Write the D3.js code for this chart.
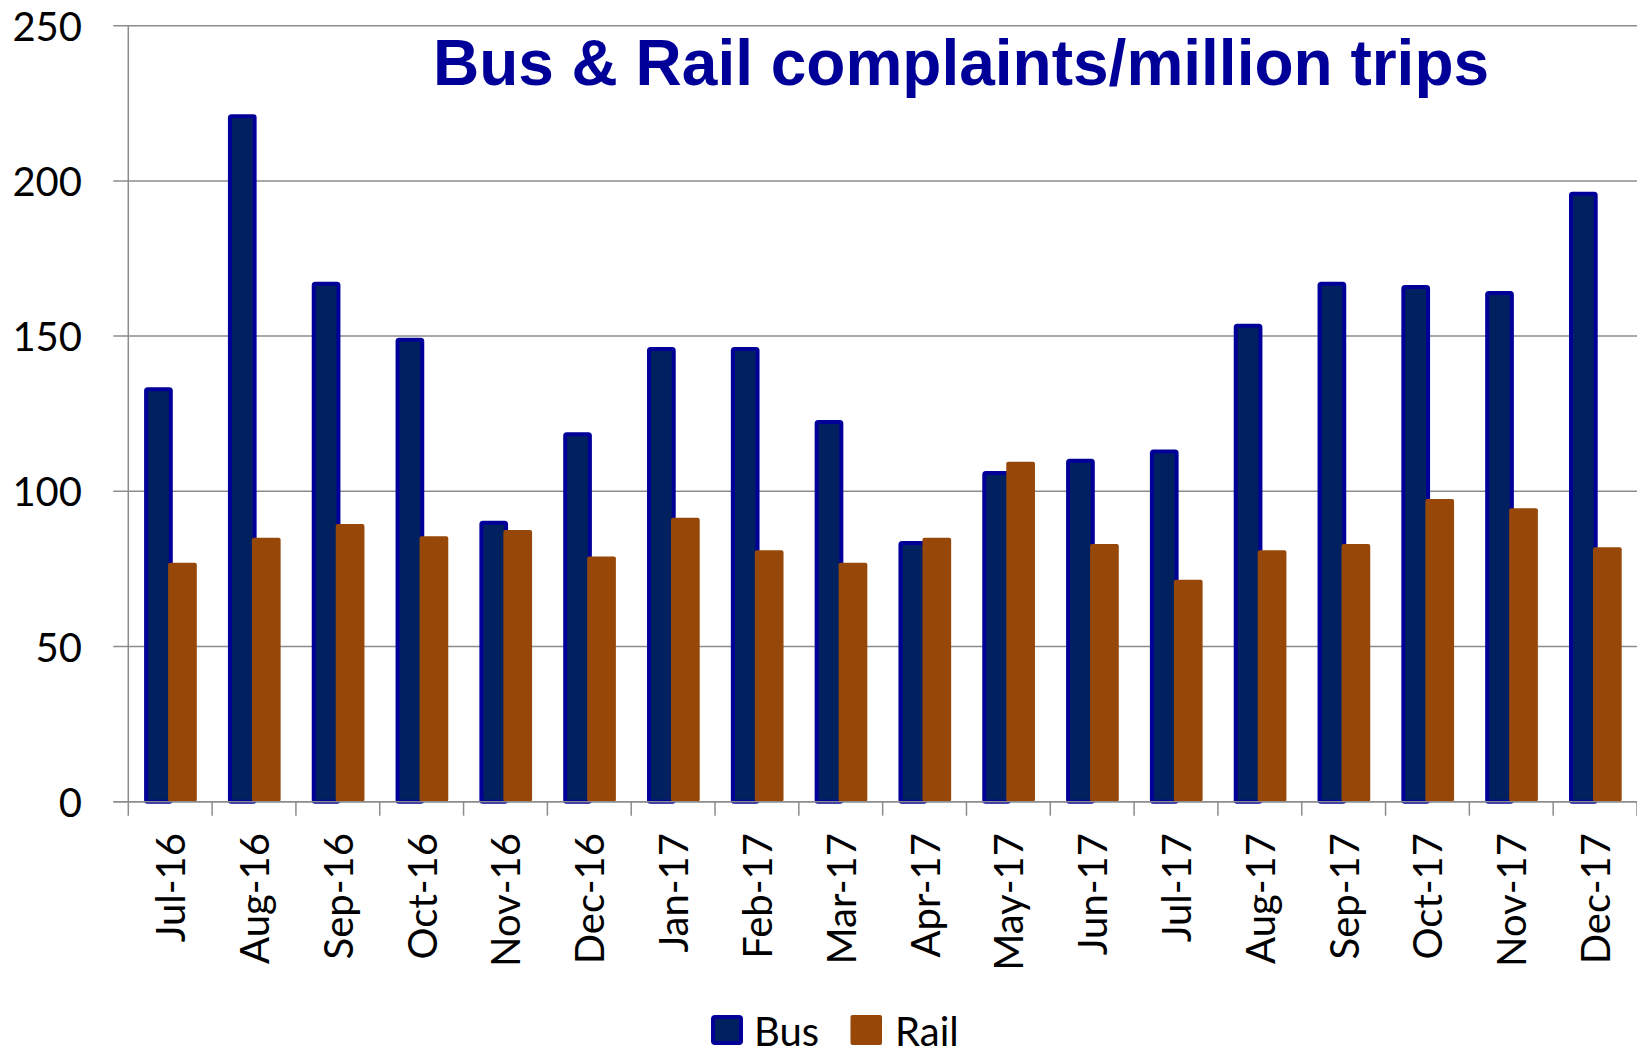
<!DOCTYPE html>
<html>
<head>
<meta charset="utf-8">
<script src="https://cdn.jsdelivr.net/npm/d3@7"></script>
<style>
    body { margin: 0; background: #fff; }
    svg { display: block; }
    .tick-label { font-family: Lato, "Open Sans", sans-serif; font-size: 40px; fill: #000; }
</style>
</head>
<body>
<script>
// complaints per million trips
var months = ["Jul-16", "Aug-16", "Sep-16", "Oct-16", "Nov-16", "Dec-16",
    "Jan-17", "Feb-17", "Mar-17", "Apr-17", "May-17", "Jun-17",
    "Jul-17", "Aug-17", "Sep-17", "Oct-17", "Nov-17", "Dec-17"];
var busValues = [133.5, 221.5, 167.5, 149.5, 90.5, 119, 146.5, 146.5, 123,
    84, 106.5, 110.5, 113.5, 154, 167.5, 166.5, 164.5, 196.5];
var railValues = [77, 85, 89.5, 85.5, 87.5, 79, 91.5, 81, 77,
    85, 109.5, 83, 71.5, 81, 83, 97.5, 94.5, 82];
var yTicks = [0, 50, 100, 150, 200, 250];
var seriesNames = ["Bus", "Rail"];

var width = 1637;
var height = 1055;
var margin = { top: 25.7, left: 128.3, right: 0, bottom: 253.3 };

var svg = d3.select("body")
    .append("svg")
    .attr("width", width)
    .attr("height", height);

var xScale = d3.scaleBand()
    .domain(months)
    .range([margin.left, width - margin.right])
    .padding(0);

var yScale = d3.scaleLinear()
    .domain([0, 250])
    .range([height - margin.bottom, margin.top]);

var y0 = yScale(0);

// gridlines + y labels
svg.append("g")
    .selectAll("line")
    .data(yTicks)
    .enter()
    .append("line")
    .attr("x1", margin.left - 15)
    .attr("x2", width)
    .attr("y1", d => yScale(d))
    .attr("y2", d => yScale(d))
    .attr("stroke", "#8c8c8c")
    .attr("stroke-width", 1.5);

svg.append("g")
    .selectAll("text")
    .data(yTicks)
    .enter()
    .append("text")
    .attr("class", "tick-label")
    .attr("x", 82)
    .attr("y", d => yScale(d) + 15)
    .attr("text-anchor", "end")
    .text(d => d);

// y axis line
svg.append("line")
    .attr("x1", margin.left).attr("x2", margin.left)
    .attr("y1", margin.top).attr("y2", y0 + 14)
    .attr("stroke", "#8c8c8c")
    .attr("stroke-width", 1.5);

// x ticks between categories
svg.append("g")
    .selectAll("line")
    .data(months)
    .enter()
    .append("line")
    .attr("x1", d => xScale(d) + xScale.bandwidth())
    .attr("x2", d => xScale(d) + xScale.bandwidth())
    .attr("y1", y0)
    .attr("y2", y0 + 14)
    .attr("stroke", "#8c8c8c")
    .attr("stroke-width", 1.5);

var barW = 28.7;
var bw = xScale.bandwidth();

// bus bars (drawn first, rail overlaps the right edge a bit)
svg.append("g")
    .selectAll("rect")
    .data(busValues)
    .enter()
    .append("rect")
    .attr("x", (d, i) => xScale(months[i]) + bw / 2 - 26.1 + 2)
    .attr("y", d => yScale(d) + 2)
    .attr("width", barW - 4)
    .attr("height", d => y0 - yScale(d) - 2)
    .attr("rx", 1.5)
    .attr("fill", "#002060")
    .attr("stroke", "#000099")
    .attr("stroke-width", 4);

svg.append("g")
    .selectAll("rect")
    .data(railValues)
    .enter()
    .append("rect")
    .attr("x", (d, i) => xScale(months[i]) + bw / 2 - 2.1)
    .attr("y", d => yScale(d))
    .attr("width", barW)
    .attr("height", d => y0 - yScale(d))
    .attr("rx", 2)
    .attr("fill", "#974809");

// redraw baseline on top of bars
svg.append("line")
    .attr("x1", margin.left - 15).attr("x2", width)
    .attr("y1", y0).attr("y2", y0)
    .attr("stroke", "#8c8c8c")
    .attr("stroke-width", 1.5);

// x labels, rotated
svg.append("g")
    .selectAll("text")
    .data(months)
    .enter()
    .append("text")
    .attr("class", "tick-label")
    .attr("transform", d => "translate(" + (xScale(d) + bw / 2) + "," + 833 + ") rotate(-90)")
    .attr("y", 15)
    .attr("text-anchor", "end")
    .text(d => d);

// title
svg.append("text")
    .attr("x", 961)
    .attr("y", 85)
    .attr("text-anchor", "middle")
    .style("font-family", "'Liberation Sans', Arial, sans-serif")
    .style("font-weight", "bold")
    .style("font-size", "64px")
    .attr("fill", "#000099")
    .text("Bus & Rail complaints/million trips");

// legend
var legendX = [711, 850.5];
var legend = svg.append("g")
    .selectAll("g")
    .data(seriesNames)
    .enter()
    .append("g")
    .attr("transform", (d, i) => "translate(" + legendX[i] + ",1015)");

legend.append("rect")
    .attr("x", (d, i) => i === 0 ? 2 : 0)
    .attr("y", (d, i) => i === 0 ? 2 : 0)
    .attr("width", (d, i) => i === 0 ? 28 : 31.5)
    .attr("height", (d, i) => i === 0 ? 26 : 30)
    .attr("rx", 2)
    .attr("fill", (d, i) => i === 0 ? "#002060" : "#974809")
    .attr("stroke", (d, i) => i === 0 ? "#000099" : "none")
    .attr("stroke-width", 4);

legend.append("text")
    .attr("class", "tick-label")
    .attr("x", (d, i) => i === 0 ? 43 : 44.5)
    .attr("y", 31)
    .text(d => d);
</script>
</body>
</html>
